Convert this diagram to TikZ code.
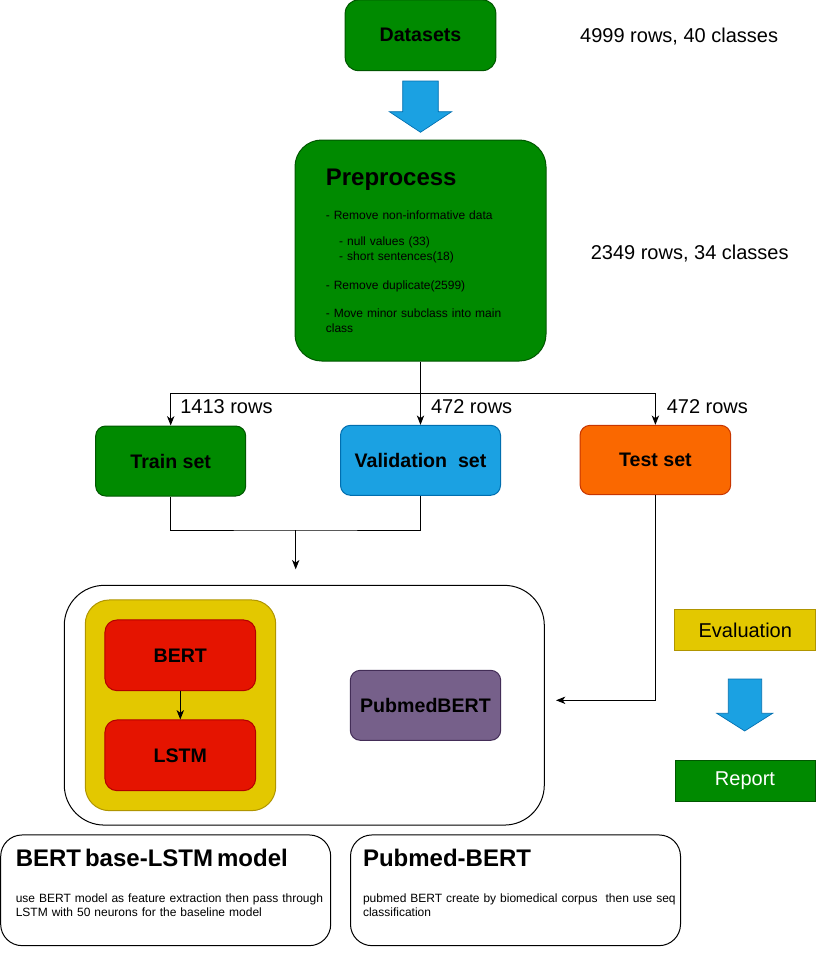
\documentclass[tikz,border=0pt]{standalone}
\usepackage{fontspec}
\setmainfont{Liberation Sans}
\usepackage{xcolor}
\usepackage{tikz}
\usetikzlibrary{arrows.meta, positioning}
\definecolor{dgreen}{HTML}{008A00}
\definecolor{dgreenline}{HTML}{005700}
\definecolor{lblue}{HTML}{1BA1E2}
\definecolor{lblueline}{HTML}{006EAF}
\definecolor{orng}{HTML}{FA6800}
\definecolor{orngline}{HTML}{C73500}
\definecolor{ylw}{HTML}{E3C800}
\definecolor{ylwline}{HTML}{B09500}
\definecolor{rd}{HTML}{E51400}
\definecolor{rdline}{HTML}{B20000}
\definecolor{prpl}{HTML}{76608A}
\definecolor{prplline}{HTML}{432D57}
\tikzstyle{arrow} = [line width=0.75pt, -{Stealth[length=7pt, width=5.5pt, inset=2pt]}]
\tikzstyle{stage} = [draw, rectangle, line width=0.75pt, rounded corners=7.5pt, minimum width=112.5pt, minimum height=52.5pt, font=\fontsize{14.7}{17}\selectfont\bfseries]
\tikzstyle{card} = [draw, rectangle, line width=0.75pt, rounded corners=16pt, minimum width=247.5pt, minimum height=83pt]
\tikzstyle{bigarrow} = [fill=lblue, draw=lblueline, line width=0.5pt]

\begin{document}
\begin{tikzpicture}[x=0.75pt, y=-0.75pt, every node/.style={inner sep=0pt, font=\fontsize{15}{18}\selectfont}]
\useasboundingbox (0,0) rectangle (816,961);

% Data and preprocessing
\node (datasets) [stage, fill=dgreen, draw=dgreenline, minimum width=113pt, minimum height=53pt, rounded corners=10pt] at (420.5,35.3) {Datasets};
\node (datainfo) [right=62.7pt of datasets, yshift=-1.2pt] {4999 rows, 40 classes};

\filldraw[bigarrow] (402.7,81) -- (438.3,81) -- (438.3,111.7) -- (451.7,111.7) -- (420.5,132.3) -- (389.3,111.7) -- (402.7,111.7) -- cycle;

\node (prep) [stage, fill=dgreen, draw=dgreenline, minimum width=188.25pt, minimum height=165.75pt, rounded corners=20pt, text width=142pt, align=left, font=\fontsize{9}{10.8}\selectfont] at (420.5,250.5) {%
{\fontsize{18}{21}\selectfont\bfseries Preprocess}\\[14.9pt]
- Remove non-informative data\\[8.9pt]
\hspace*{10pt}- null values (33)\\
\hspace*{10pt}- short sentences(18)\\[11.5pt]
- Remove duplicate(2599)\\[10.2pt]
- Move minor subclass into main\\
class};
\node (prepinfo) [right=33pt of prep, yshift=-2.5pt] {2349 rows, 34 classes};

% Split
\node (train) [stage, fill=dgreen, draw=dgreenline] at (170.7,461) {Train set};
\node (val) [stage, fill=lblue, draw=lblueline, minimum width=120pt] at (420.5,460.3) {Validation\ \ set};
\node (test) [stage, fill=orng, draw=orngline, minimum width=113pt, minimum height=52pt] at (655.4,460) {Test set};

\coordinate (split) at (420.5,393.3);
\draw[line width=0.75pt] (prep) -- (split);
\draw[arrow] (split) -| (train);
\draw[arrow] (split) -- (val);
\draw[arrow] (split) -| (test);
\node (trainrows) [anchor=west] at (180,406.7) {1413 rows};
\node (valrows) [anchor=west] at (430.8,406.7) {472 rows};
\node (testrows) [anchor=west] at (666.5,406.7) {472 rows};

% Models
\node (models) [draw, rectangle, line width=0.75pt, rounded corners=30pt, minimum width=360pt, minimum height=179.8pt] at (304.3,705.2) {};
\node (lstmgroup) [draw=ylwline, fill=ylw, rectangle, line width=0.75pt, rounded corners=18pt, minimum width=142.8pt, minimum height=158pt] at (180.5,705.3) {};
\node (bert) [stage, fill=rd, draw=rdline, minimum width=113pt, minimum height=53pt, rounded corners=9pt] at (180.3,655.3) {BERT};
\node (lstm) [stage, fill=rd, draw=rdline, minimum width=113pt, minimum height=53pt, rounded corners=9pt] at (180.3,755.3) {LSTM};
\node (pubmed) [stage, fill=prpl, draw=prplline, minimum width=112.8pt] at (425.5,705.3) {PubmedBERT};
\draw[arrow] (bert) -- (lstm);

\coordinate (merge) at (295.7,530);
\coordinate (modelin) at (295.7,569.3);
\coordinate (testin) at (556,700.3);
\draw[line width=0.75pt] (train.south) |- (merge) -| (val.south);
\draw[arrow] (merge) -- (modelin);
\draw[arrow] (test.south) |- (testin);

% Evaluation
\node (eval) [draw=ylwline, fill=ylw, rectangle, line width=0.75pt, minimum width=105.5pt, minimum height=30.5pt] at (745.3,630.3) {Evaluation};
\filldraw[bigarrow] (728.3,679) -- (761.7,679) -- (761.7,713.3) -- (772.7,713.3) -- (744.7,731) -- (716.7,713.3) -- (728.3,713.3) -- cycle;
\node (report) [draw=dgreenline, fill=dgreen, text=white, rectangle, line width=0.75pt, minimum width=105pt, minimum height=30.75pt] at (745,780.5) {Report};

% Model notes
\node (lstmcard) [card] at (165.7,890.3) {};
\node (lstmnote) [anchor=north west, text width=235pt, align=left, font=\fontsize{9}{10.5}\selectfont] at (15.5,849) {%
{\fontsize{18}{21}\selectfont\bfseries BERT base-LSTM model}\\[16.7pt]
use BERT model as feature extraction then pass through\\
LSTM with 50 neurons for the baseline model};
\node (pubmedcard) [card] at (515.5,890.3) {};
\node (pubmednote) [anchor=north west, text width=240pt, align=left, font=\fontsize{9}{10.5}\selectfont] at (362.8,849) {%
{\fontsize{18}{21}\selectfont\bfseries Pubmed-BERT}\\[16.7pt]
pubmed BERT create by biomedical corpus\ \ then use seq\\
classification};
\end{tikzpicture}
\end{document}
